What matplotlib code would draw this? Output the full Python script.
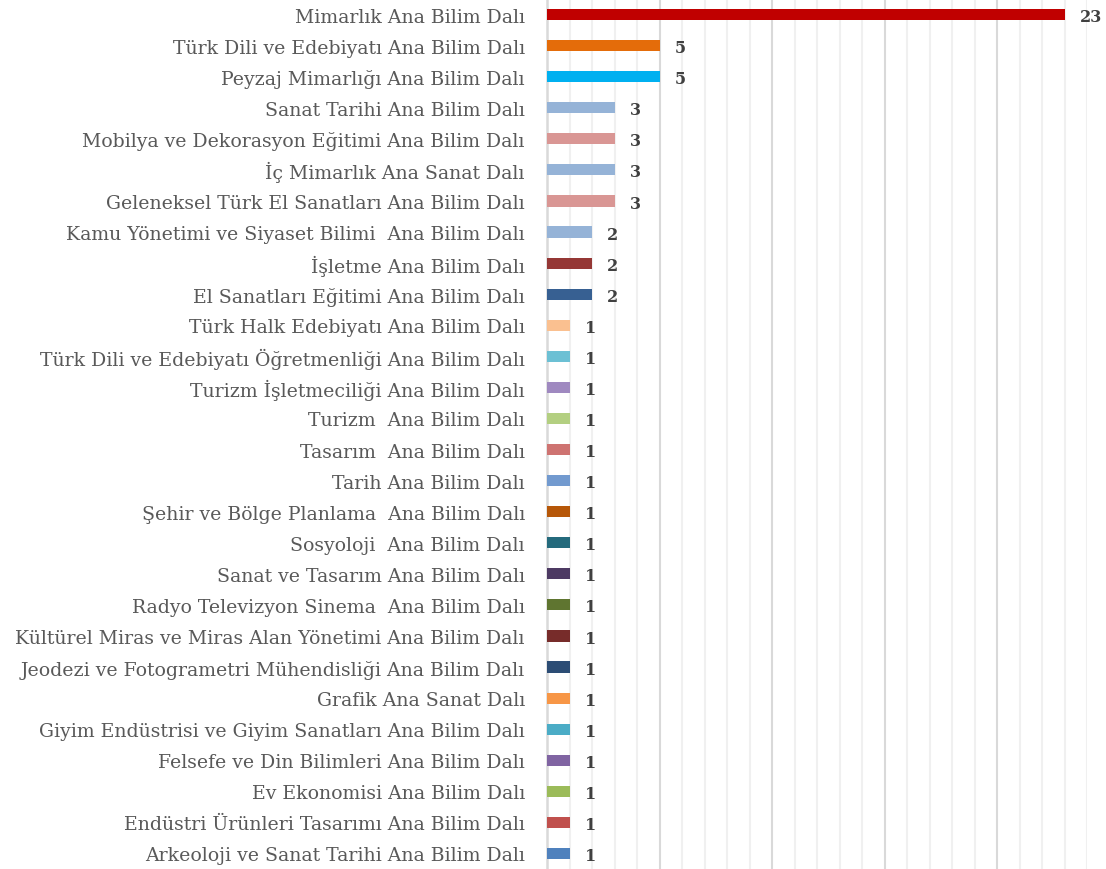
import matplotlib
matplotlib.use("Agg")
import matplotlib.pyplot as plt

# bolumler (ustten alta)
departments = [
    "Mimarlık Ana Bilim Dalı",
    "Türk Dili ve Edebiyatı Ana Bilim Dalı",
    "Peyzaj Mimarlığı Ana Bilim Dalı",
    "Sanat Tarihi Ana Bilim Dalı",
    "Mobilya ve Dekorasyon Eğitimi Ana Bilim Dalı",
    "İç Mimarlık Ana Sanat Dalı",
    "Geleneksel Türk El Sanatları Ana Bilim Dalı",
    "Kamu Yönetimi ve Siyaset Bilimi  Ana Bilim Dalı",
    "İşletme Ana Bilim Dalı",
    "El Sanatları Eğitimi Ana Bilim Dalı",
    "Türk Halk Edebiyatı Ana Bilim Dalı",
    "Türk Dili ve Edebiyatı Öğretmenliği Ana Bilim Dalı",
    "Turizm İşletmeciliği Ana Bilim Dalı",
    "Turizm  Ana Bilim Dalı",
    "Tasarım  Ana Bilim Dalı",
    "Tarih Ana Bilim Dalı",
    "Şehir ve Bölge Planlama  Ana Bilim Dalı",
    "Sosyoloji  Ana Bilim Dalı",
    "Sanat ve Tasarım Ana Bilim Dalı",
    "Radyo Televizyon Sinema  Ana Bilim Dalı",
    "Kültürel Miras ve Miras Alan Yönetimi Ana Bilim Dalı",
    "Jeodezi ve Fotogrametri Mühendisliği Ana Bilim Dalı",
    "Grafik Ana Sanat Dalı",
    "Giyim Endüstrisi ve Giyim Sanatları Ana Bilim Dalı",
    "Felsefe ve Din Bilimleri Ana Bilim Dalı",
    "Ev Ekonomisi Ana Bilim Dalı",
    "Endüstri Ürünleri Tasarımı Ana Bilim Dalı",
    "Arkeoloji ve Sanat Tarihi Ana Bilim Dalı",
]
counts = [23, 5, 5, 3, 3, 3, 3, 2, 2, 2,
          1, 1, 1, 1, 1, 1, 1, 1, 1, 1,
          1, 1, 1, 1, 1, 1, 1, 1]
bar_colors = [
    "#C00000", "#E46C0A", "#00B0F0", "#95B3D7", "#D99694", "#95B3D7", "#D99694",
    "#95B3D7", "#953735", "#376092", "#FAC090", "#6CC0D4", "#9F89C0", "#B3CF81",
    "#CE7371", "#729ACF", "#B65708", "#246A7C", "#4D3A63", "#5F7530", "#772C2A",
    "#2C4D75", "#F79646", "#4BACC6", "#8064A2", "#9BBB59", "#C0504D", "#4F81BD",
]

plt.rcParams['font.family'] = ['DejaVu Serif']

fig = plt.figure(figsize=(11.06, 8.70), dpi=100)
ax = fig.add_axes([547 / 1106, 0.0, (1087 - 547) / 1106, 1.0])

ypos = list(range(len(departments)))
ax.barh(ypos, counts, height=0.36, color=bar_colors, zorder=3)

for y, v in zip(ypos, counts):
    ax.annotate(str(v), xy=(v, y), xytext=(11, -1.5), textcoords="offset points",
                ha="left", va="center", fontsize=11.5, fontweight="bold",
                color="#404040", annotation_clip=False)

ax.set_xlim(0, 24)
ax.set_ylim(len(departments) - 0.5, -0.5)
ax.set_yticks(ypos)
ax.set_yticklabels(departments, fontsize=13.6, color="#595959")
ax.tick_params(axis="y", length=0, pad=16)
ax.set_xticks([])

# grid: ince cizgiler her birim, koyu cizgiler her 5 birim
for x in range(1, 25):
    c = "#D9D9D9" if x % 5 == 0 else "#F0F0F0"
    ax.axvline(x, color=c, lw=1.5, zorder=1)

for s in ["top", "right", "bottom"]:
    ax.spines[s].set_visible(False)
ax.spines["left"].set_color("#D9D9D9")
ax.spines["left"].set_linewidth(1.8)

fig.savefig("out.png", dpi=100)
